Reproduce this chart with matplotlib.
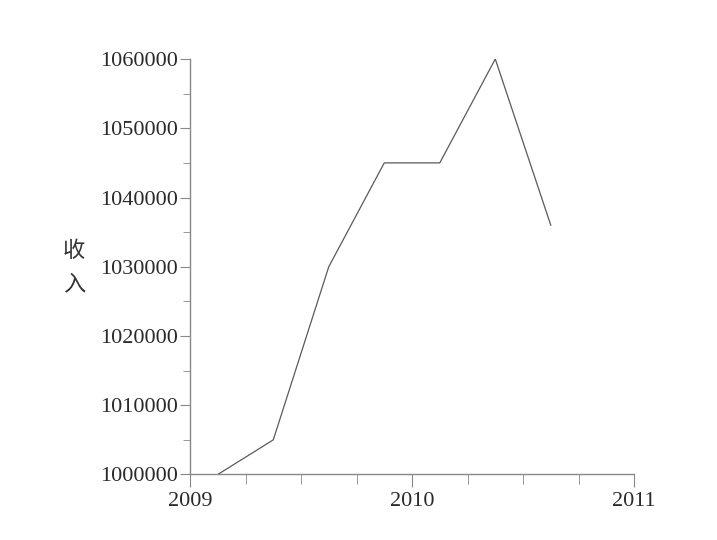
import matplotlib
matplotlib.use('Agg')
from matplotlib import pyplot as plt
from matplotlib.ticker import MultipleLocator

# revenue per quarter (quarter mid-points, fractional years)
years = [2009.125, 2009.375, 2009.625, 2009.875, 2010.125, 2010.375, 2010.625]
income = [1000000, 1005000, 1030000, 1045000, 1045000, 1060000, 1036000]
ylabel = '收\n入'

plt.rcParams['font.family'] = ['Liberation Serif', 'Noto Sans CJK SC']

fig = plt.figure(figsize=(7.17, 5.4), dpi=100)
ax = fig.add_axes([0.265, 0.1213, 0.8843 - 0.265, 0.8907 - 0.1213])

ax.plot(years, income, color='#5a5a5a', linewidth=0.9)

ax.set_xlim(2009, 2011)
ax.set_ylim(1000000, 1060000)
ax.xaxis.set_major_locator(MultipleLocator(1))
ax.xaxis.set_minor_locator(MultipleLocator(0.25))
ax.yaxis.set_major_locator(MultipleLocator(10000))
ax.yaxis.set_minor_locator(MultipleLocator(5000))
ax.xaxis.set_major_formatter(lambda v, p: '%d' % v)
ax.yaxis.set_major_formatter(lambda v, p: '%d' % v)

for s in ['top', 'right']:
    ax.spines[s].set_visible(False)
for s in ['left', 'bottom']:
    ax.spines[s].set_color('#888888')
    ax.spines[s].set_linewidth(1.0)

ax.tick_params(which='both', color='#888888', labelcolor='#2a2a2a', labelsize=16)
ax.tick_params(axis='y', which='major', length=7.5, pad=1.5)
ax.tick_params(axis='y', which='minor', length=5)
ax.tick_params(axis='x', which='major', length=9, pad=3.5)
ax.tick_params(axis='x', which='minor', length=7)

ax.set_ylabel(ylabel, rotation=0, fontsize=16, color='#333333', family='Noto Sans CJK SC',
              linespacing=1.6, ha='center', va='center')
ax.yaxis.set_label_coords(-0.261, 0.499)

fig.savefig('out.png', dpi=100)
